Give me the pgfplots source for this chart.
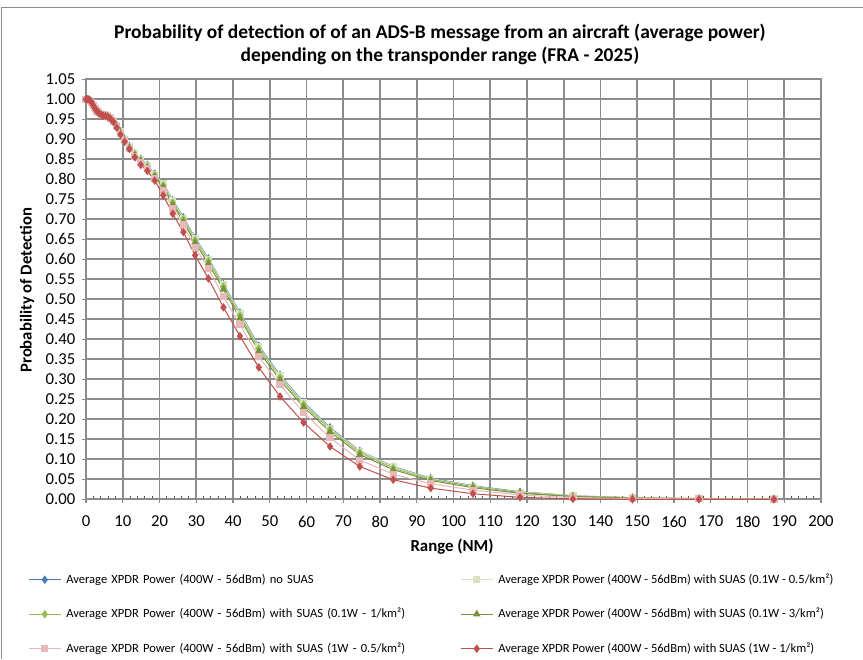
\documentclass[border=0pt]{standalone}
\usepackage{pgfplots}
\usepackage{pgfplotstable}
\pgfplotsset{compat=1.18}
\usepackage{fontspec}
\setmainfont{Carlito}

\definecolor{cblue}{HTML}{4A7EBB}
\definecolor{cpale}{HTML}{D7E4BD}
\definecolor{cgreen}{HTML}{9BBB59}
\definecolor{cdark}{HTML}{77933C}
\definecolor{cpink}{HTML}{E6B9B8}
\definecolor{cred}{HTML}{C0504D}
\definecolor{gridgray}{HTML}{8C8C8C}

% range (NM) vs probability of detection
\pgfplotstableread{
x      blue   pale   green  dark   pink   red
0      1.000  1.000  1.000  1.000  1.000  1.000
0.5    1.000  1.000  1.000  1.000  1.000  1.000
1.0    0.998  0.998  0.998  0.998  0.998  0.998
1.5    0.993  0.993  0.993  0.993  0.993  0.993
2.0    0.985  0.985  0.985  0.985  0.984  0.984
2.5    0.977  0.977  0.977  0.977  0.976  0.976
3.0    0.971  0.971  0.970  0.970  0.970  0.970
3.5    0.967  0.967  0.966  0.966  0.966  0.966
4.2    0.963  0.963  0.962  0.962  0.962  0.961
4.7    0.961  0.961  0.960  0.960  0.960  0.959
5.3    0.960  0.960  0.959  0.959  0.959  0.958
5.9    0.959  0.959  0.958  0.958  0.958  0.957
6.6    0.955  0.955  0.954  0.954  0.953  0.952
7.5    0.947  0.947  0.946  0.946  0.945  0.943
8.4    0.935  0.935  0.934  0.933  0.932  0.929
9.4    0.920  0.919  0.918  0.917  0.915  0.912
10.5   0.901  0.900  0.899  0.898  0.897  0.894
11.8   0.883  0.882  0.880  0.879  0.878  0.876
13.3   0.865  0.864  0.862  0.860  0.858  0.855
14.9   0.851  0.850  0.848  0.846  0.842  0.836
16.7   0.836  0.835  0.832  0.829  0.828  0.821
18.7   0.814  0.813  0.810  0.807  0.803  0.797
21.0   0.790  0.789  0.785  0.781  0.772  0.760
23.6   0.748  0.746  0.742  0.737  0.728  0.714
26.5   0.705  0.703  0.700  0.694  0.686  0.668
29.7   0.654  0.652  0.648  0.642  0.630  0.610
33.3   0.602  0.600  0.596  0.589  0.577  0.552
37.4   0.538  0.536  0.532  0.525  0.507  0.480
41.9   0.467  0.465  0.460  0.453  0.436  0.408
47.0   0.384  0.381  0.377  0.370  0.357  0.330
52.8   0.311  0.309  0.305  0.298  0.286  0.257
59.2   0.243  0.241  0.237  0.231  0.217  0.192
66.4   0.180  0.178  0.175  0.169  0.154  0.132
74.5   0.121  0.120  0.117  0.112  0.098  0.082
83.6   0.082  0.081  0.078  0.074  0.063  0.049
93.8   0.053  0.052  0.050  0.047  0.039  0.028
105.3  0.034  0.033  0.032  0.029  0.023  0.014
118.1  0.019  0.018  0.017  0.015  0.011  0.005
132.5  0.009  0.009  0.008  0.007  0.004  0.001
148.7  0.004  0.004  0.004  0.003  0.002  0.000
166.8  0.002  0.002  0.002  0.001  0.001  0.000
187.2  0.001  0.001  0.001  0.000  0.000  0.000
}\pod

\begin{document}
\begin{tikzpicture}
\path[use as bounding box] (-64.5pt,-119.8pt) rectangle (582.75pt,374.5pt);
\begin{axis}[
    scale only axis,
    width=551.25pt, height=315pt,
    xmin=0, xmax=200, ymin=0, ymax=1.05,
    xtick={0,10,...,200},
    ytick={0,0.05,...,1.05},
    minor x tick num=4,
    xtick pos=lower, ytick pos=left,
    grid=major,
    major grid style={gridgray, line width=1.3pt},
    axis line style={gridgray, line width=1.3pt},
    tick style={gridgray, line width=1.1pt},
    tick align=outside,
    major tick length=3pt,
    minor tick length=2.5pt,
    every minor tick/.append style={yshift=2.5pt, black!70, line width=0.8pt},
    /pgf/number format/assume math mode=true,
    ticklabel style={font=\fontsize{12.5}{14}\selectfont},
    yticklabel style={/pgf/number format/.cd, fixed, fixed zerofill, precision=2, /tikz/.cd, xshift=-1.5pt},
    xticklabel style={yshift=-6pt},
    scaled y ticks=false,
    title={Probability of detection of of an ADS-B message from an aircraft (average power)\\depending on the transponder range (FRA - 2025)},
    title style={at={(axis description cs:0.4816,1)}, anchor=south, yshift=5pt, inner sep=0pt, align=center, font=\bfseries\fontsize{14.6}{17}\selectfont},
    xlabel={Range (NM)},
    xlabel style={at={(axis description cs:0.498,-0.1136)}, anchor=center, font=\bfseries\fontsize{12.6}{14}\selectfont},
    ylabel={Probability of Detection},
    ylabel style={at={(axis description cs:-0.0803,0.498)}, anchor=center, font=\bfseries\fontsize{12.5}{14}\selectfont},
    legend columns=2,
    legend cell align=left,
    legend image code/.code={\draw[mark repeat=2,mark phase=2,#1] plot coordinates {(0pt,0pt) (12pt,0pt) (24pt,0pt)};},
    legend style={draw=none, fill=none, inner sep=0pt, at={(axis description cs:-0.0789,-0.174)}, anchor=north west,
        font=\fontsize{9.4}{12}\selectfont, row sep=15.4pt,
        nodes={inner sep=0pt, text height=8pt, text depth=2.5pt},
        /tikz/every odd column/.style={column sep=3.75pt}},
    every axis plot/.append style={line width=0.75pt},
]
\addplot[cblue, mark=diamond*, mark size=2.6pt, mark options={fill=cblue, draw=cblue}] table[x=x, y=blue] {\pod};
\addlegendentry[text width=295.5pt]{Average XPDR Power (400W - 56dBm) no SUAS}
\addplot[cpale, mark=square*, mark size=2.3pt, mark options={fill=cpale, draw=cpale}] table[x=x, y=pale] {\pod};
\addlegendentry{Average XPDR Power (400W - 56dBm) with SUAS (0.1W - 0.5/km²)}
\addplot[cgreen, mark=diamond*, mark size=2.6pt, mark options={fill=cgreen, draw=cgreen}] table[x=x, y=green] {\pod};
\addlegendentry[text width=295.5pt]{Average XPDR Power (400W - 56dBm) with SUAS (0.1W - 1/km²)}
\addplot[cdark, mark=triangle*, mark size=2.6pt, mark options={fill=cdark, draw=cdark}] table[x=x, y=dark] {\pod};
\addlegendentry{Average XPDR Power (400W - 56dBm) with SUAS (0.1W - 3/km²)}
\addplot[cpink, mark=square*, mark size=2.3pt, mark options={fill=cpink, draw=cpink}] table[x=x, y=pink] {\pod};
\addlegendentry[text width=295.5pt]{Average XPDR Power (400W - 56dBm) with SUAS (1W - 0.5/km²)}
\addplot[cred, mark=diamond*, mark size=2.6pt, mark options={fill=cred, draw=cred}] table[x=x, y=red] {\pod};
\addlegendentry{Average XPDR Power (400W - 56dBm) with SUAS (1W - 1/km²)}
\end{axis}
% chart area border (top and left edges visible in the reference)
\draw[gridgray, line width=0.8pt] (-63.4pt,-119.8pt) -- (-63.4pt,368.85pt) -- (582.75pt,368.85pt);
\end{tikzpicture}
\end{document}
